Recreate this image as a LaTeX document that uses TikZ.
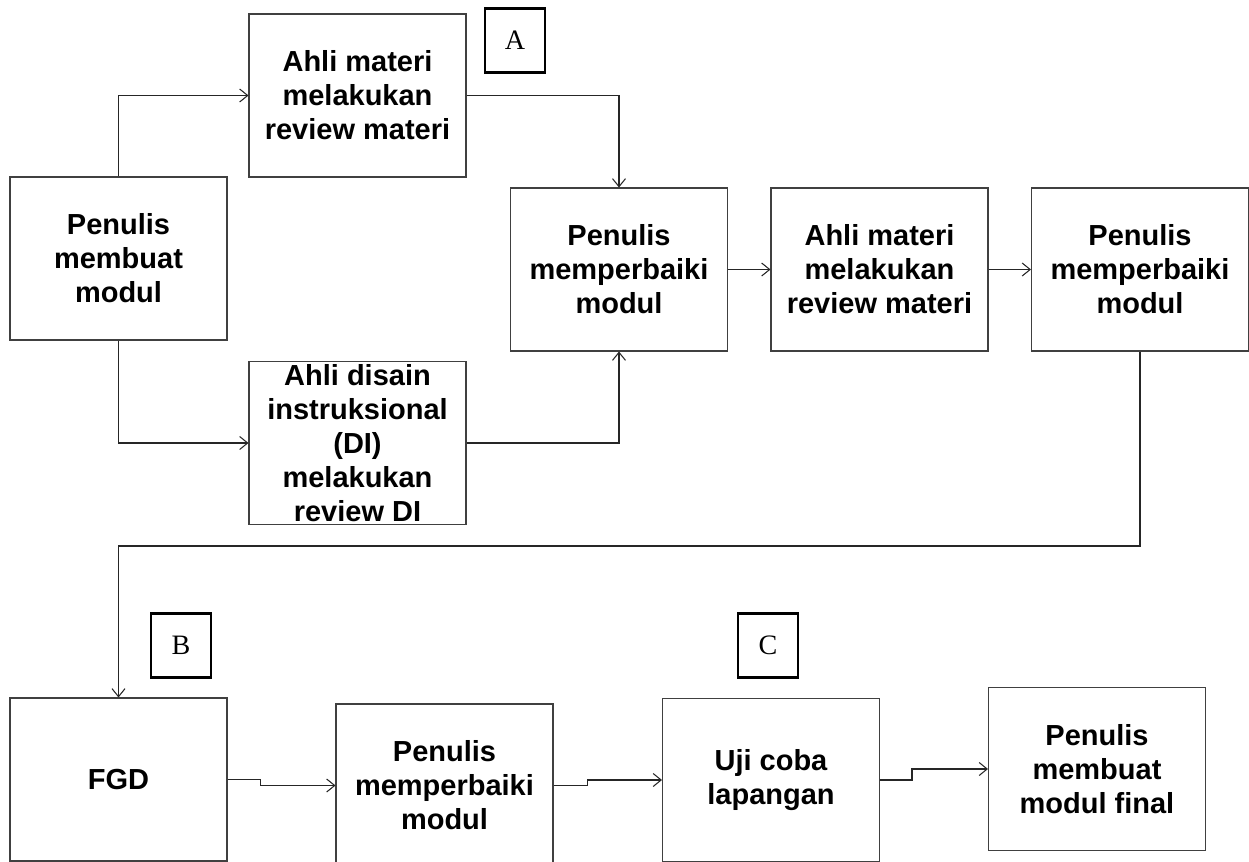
\documentclass[tikz,border=0pt]{standalone}
\usepackage{fontspec}
\setmainfont{Liberation Serif}
\setsansfont{Liberation Sans}
\usetikzlibrary{arrows.meta}

\tikzset{
  proses/.style={draw=black!75, line width=0.6pt, minimum width=4.34cm, minimum height=3.26cm, inner sep=0pt, align=center, font=\sffamily\bfseries\fontsize{16.5}{19.4}\selectfont},
  tanda/.style={draw=black, line width=1.2pt, minimum width=1.2cm, minimum height=1.28cm, inner sep=0pt, font=\fontsize{16}{18}\selectfont},
  panah/.style={draw=black!85, line width=0.6pt, -{Straight Barb[length=1.6mm,width=2.6mm]}}
}

\begin{document}
\begin{tikzpicture}[x=0.02cm, y=-0.02cm]
          \useasboundingbox (0,0) rectangle (1249,862);
          \node[proses] (tulis) at (118.5,258.5) {Penulis\\membuat\\modul};
          \node[proses] (materi) at (357.5,95.5) {Ahli materi\\melakukan\\review materi};
          \node[proses] (disain) at (357.5,443) {Ahli disain\\instruksional\\(DI)\\melakukan\\review DI};
          \node[proses] (perbaiki) at (619,269.5) {Penulis\\memperbaiki\\modul};
          \node[proses] (materidua) at (879.5,269.5) {Ahli materi\\melakukan\\review materi};
          \node[proses] (perbaikidua) at (1140,269.5) {Penulis\\memperbaiki\\modul};
          \node[proses] (fgd) at (118.5,779.5) {FGD};
          \node[proses] (perbaikitiga) at (444.5,785.5) {Penulis\\memperbaiki\\modul};
          \node[proses] (ujicoba) at (771,780) {Uji coba\\lapangan};
          \node[proses] (final) at (1097,769) {Penulis\\membuat\\modul final};
          \node[tanda] (tandaA) at (515,40.5) {A};
          \node[tanda] (tandaB) at (181,645.5) {B};
          \node[tanda] (tandaC) at (768,645.5) {C};
          \coordinate (belok) at (118.5,546);
          \draw[panah] (tulis.north) |- (materi.west);
          \draw[panah] (tulis.south) |- (disain.west);
          \draw[panah] (materi.east) -| (perbaiki.north);
          \draw[panah] (disain.east) -| (perbaiki.south);
          \draw[panah] (perbaiki.east) -- (materidua.west);
          \draw[panah] (materidua.east) -- (perbaikidua.west);
          \draw[panah] (perbaikidua.south) |- (belok) -- (fgd.north);
          \draw[panah] (fgd.east) -- ++(33,0) |- (perbaikitiga.west);
          \draw[panah] (perbaikitiga.east) -- ++(34,0) |- (ujicoba.west);
          \draw[panah] (ujicoba.east) -- ++(32,0) |- (final.west);
        \end{tikzpicture}
\end{document}
